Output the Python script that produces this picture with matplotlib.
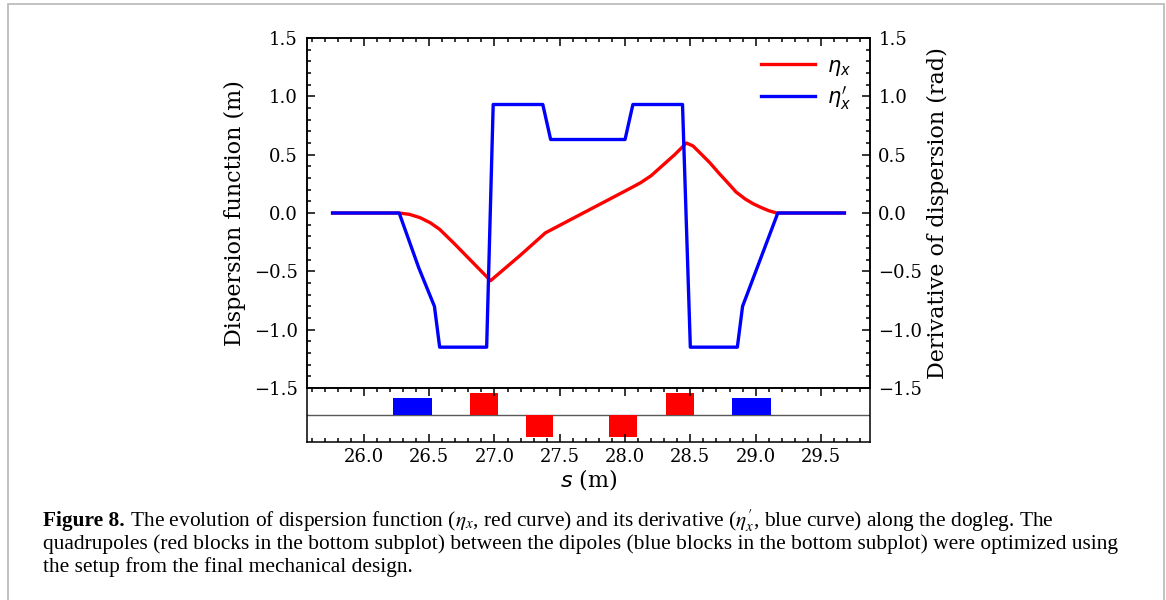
import matplotlib
matplotlib.use('Agg')
import matplotlib.pyplot as plt
from matplotlib.ticker import MultipleLocator
from matplotlib.patches import Rectangle

# ---- data ----
s_eta = [25.76, 26.27, 26.35, 26.43, 26.51, 26.58, 26.69, 26.97, 27.20, 27.39,
         28.02, 28.12, 28.20, 28.27, 28.38, 28.47, 28.52, 28.57, 28.65, 28.72,
         28.79, 28.85, 28.92, 28.98, 29.04, 29.10, 29.16, 29.68]
eta = [0.0, 0.0, -0.012, -0.04, -0.085, -0.14, -0.26, -0.58, -0.36, -0.17,
       0.20, 0.26, 0.32, 0.39, 0.50, 0.60, 0.575, 0.52, 0.43, 0.34,
       0.255, 0.18, 0.12, 0.08, 0.048, 0.02, 0.0, 0.0]

s_deta = [25.76, 26.27, 26.42, 26.54, 26.58, 26.94, 26.99, 27.37, 27.43, 28.00,
          28.06, 28.44, 28.50, 28.86, 28.90, 29.17, 29.68]
deta = [0.0, 0.0, -0.47, -0.80, -1.15, -1.15, 0.93, 0.93, 0.63, 0.63,
        0.93, 0.93, -1.15, -1.15, -0.80, 0.0, 0.0]

dip_start = [26.22, 28.82]
dip_len = [0.305, 0.30]
dip_h = [0.8, 0.8]

quad_start = [26.81, 27.24, 27.88, 28.31]
quad_len = [0.22, 0.21, 0.21, 0.22]
quad_h = [1.0, -1.0, -1.0, 1.0]

ylabel_left = 'Dispersion function (m)'
ylabel_right = 'Derivative of dispersion (rad)'
xlabel = '$s$ (m)'
legend_labels = [r'$\eta_x$', r"$\eta_x'$"]
cap_bold = 'Figure 8.'
cap_line1 = (r' The evolution of dispersion function ($\eta_x$, red curve) and its '
             r"derivative ($\eta_x'$, blue curve) along the dogleg. The")
cap_line2 = ('quadrupoles (red blocks in the bottom subplot) between the dipoles '
             '(blue blocks in the bottom subplot) were optimized using')
cap_line3 = 'the setup from the final mechanical design.'

# ---- figure ----
plt.rcParams['font.family'] = ['DejaVu Serif']
W, H = 1166, 600
fig = plt.figure(figsize=(W / 100, H / 100), dpi=100)


def fx(px):
    return px / W


def fy(py):
    return 1 - py / H


L, R, T, M, B = 307, 870, 38, 388, 442
ax = fig.add_axes([fx(L), fy(M), fx(R) - fx(L), fy(T) - fy(M)])
axb = fig.add_axes([fx(L), fy(B), fx(R) - fx(L), fy(M) - fy(B)], sharex=ax)
ax2 = ax.twinx()

l1, = ax.plot(s_eta, eta, color='red', lw=2.4, label=legend_labels[0])
l2, = ax2.plot(s_deta, deta, color='blue', lw=2.4, label=legend_labels[1])

for a in (ax, ax2):
    a.set_ylim(-1.5, 1.5)
    a.yaxis.set_major_locator(MultipleLocator(0.5))
    a.yaxis.set_minor_locator(MultipleLocator(0.1))
ax.xaxis.set_major_locator(MultipleLocator(0.5))
ax.xaxis.set_minor_locator(MultipleLocator(0.1))

ax.tick_params(which='both', direction='in', top=True, bottom=False, left=True,
               right=False, labelbottom=False, labelsize=13, pad=6.5, width=1.1)
ax.tick_params(which='major', length=6)
ax.tick_params(which='minor', length=3)
ax2.tick_params(which='both', direction='in', right=True, left=False,
                labelsize=13, pad=6, width=1.1)
ax2.tick_params(which='major', length=6)
ax2.tick_params(which='minor', length=3)

ax.set_ylabel(ylabel_left, fontsize=16, labelpad=6)
ax2.set_ylabel(ylabel_right, fontsize=16, labelpad=3)

ax2.legend(handles=[l1, l2], loc='upper right', frameon=False, fontsize=15,
           handlelength=2.6, handletextpad=0.6, labelspacing=0.3)

# bottom lattice subplot
axb.bar(dip_start, dip_h, width=dip_len, align='edge', color='blue')
axb.bar(quad_start, quad_h, width=quad_len, align='edge', color='red')
axb.axhline(0, color='0.35', lw=1.0, zorder=0.5)
axb.set_ylim(-1.25, 1.25)
axb.tick_params(which='both', direction='in', top=True, bottom=True, left=False,
                labelleft=False, labelsize=13, pad=4, width=1.1)
axb.tick_params(which='major', length=6)
axb.tick_params(which='minor', length=3)
axb.set_xlabel(xlabel, fontsize=16, labelpad=1)

for a in (ax, ax2, axb):
    for sp in a.spines.values():
        sp.set_linewidth(1.1)

# figure border
fig.patches.append(Rectangle((fx(8), -0.05), fx(1164) - fx(8), fy(4) + 0.05,
                             transform=fig.transFigure, fill=False,
                             edgecolor='#bdbdbd', lw=1.3))

# caption
renderer = fig.canvas.get_renderer()
cap_font = 'Liberation Serif'
probe = fig.text(0, 0, cap_line2, family=cap_font, fontsize=10)
w10 = probe.get_window_extent(renderer).width
probe.remove()
cap_fs = 10 * (1112 - 43) / w10

x0 = 43
tb = fig.text(fx(x0), fy(526), cap_bold, family=cap_font, fontsize=cap_fs,
              fontweight='bold', va='baseline')
bb = tb.get_window_extent(renderer)
fig.text(bb.x1 / W, fy(526), cap_line1, family=cap_font, fontsize=cap_fs,
         va='baseline', math_fontfamily='stix')
fig.text(fx(x0), fy(549), cap_line2, family=cap_font, fontsize=cap_fs,
         va='baseline')
fig.text(fx(x0), fy(572), cap_line3, family=cap_font, fontsize=cap_fs,
         va='baseline')

fig.savefig('out.png', dpi=100)
